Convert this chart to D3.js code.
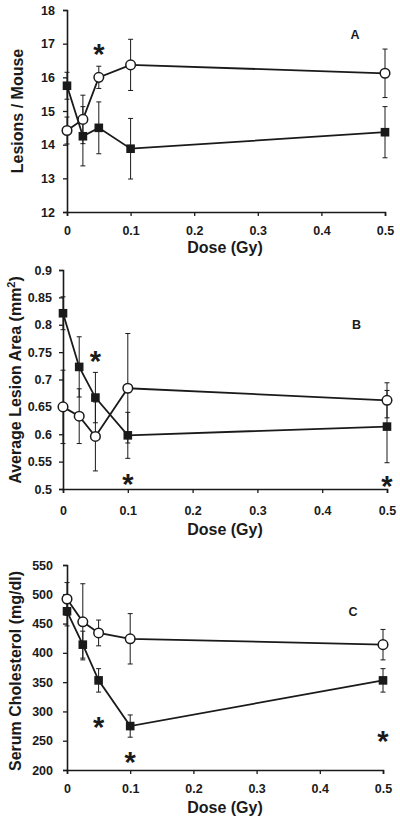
<!DOCTYPE html>
<html><head><meta charset="utf-8">
<script src="https://cdn.jsdelivr.net/npm/d3@7"></script>
<style>body{margin:0;background:#fff}svg{display:block}text{font-family:"Liberation Sans",Arial,sans-serif;font-weight:bold;fill:#1a1a1a}</style>
</head><body>
<script>
const doses = [0, 0.025, 0.05, 0.1, 0.5];
const xTicks = [0, 0.1, 0.2, 0.3, 0.4, 0.5];

// Panel A: Lesions / Mouse
const aOpen = [14.42, 14.75, 16.0, 16.37, 16.12];
const aOpenErr = [0.4, 0.72, 0.33, 0.76, 0.72];
const aFilled = [15.75, 14.25, 14.5, 13.88, 14.37];
const aFilledErr = [0.4, 0.88, 0.77, 0.9, 0.76];
const aTicks = [12, 13, 14, 15, 16, 17, 18];
const aStars = [[0.05, 16.87]];

// Panel B: Average Lesion Area (mm²)
const bOpen = [0.65, 0.633, 0.596, 0.684, 0.662];
const bOpenErr = [0.067, 0.05, 0.063, 0.1, 0.032];
const bFilled = [0.821, 0.723, 0.667, 0.598, 0.614];
const bFilledErr = [0.03, 0.055, 0.046, 0.042, 0.066];
const bTicks = [0.5, 0.55, 0.6, 0.65, 0.7, 0.75, 0.8, 0.85, 0.9];
const bStars = [[0.05, 0.745], [0.1, 0.52], [0.5, 0.516]];

// Panel C: Serum Cholesterol (mg/dl)
const cOpen = [492, 453, 434, 424, 414];
const cOpenErr = [28, 65, 22, 43, 26];
const cFilled = [471, 414, 353, 275, 353];
const cFilledErr = [25, 23, 20, 19, 20];
const cTicks = [200, 250, 300, 350, 400, 450, 500, 550];
const cStars = [[0.05, 284], [0.1, 224], [0.5, 261]];

const panels = [
  {open:aOpen, openErr:aOpenErr, filled:aFilled, filledErr:aFilledErr, ticks:aTicks, stars:aStars,
   ydom:[12,18], x0:67, x1:385, yTop:10, yBot:212, label:"A", labelPos:[355,34], pad:8,
   title:["Lesions / Mouse"], titleX:17, titleY:111, fmt:d3.format("d"), tickBase:235, doseY:253},
  {open:bOpen, openErr:bOpenErr, filled:bFilled, filledErr:bFilledErr, ticks:bTicks, stars:bStars,
   ydom:[0.5,0.9], x0:63, x1:387, yTop:270, yBot:489, label:"B", labelPos:[356.5,324], pad:7,
   title:["Average Lesion Area (mm", "2", ")"], titleX:15, titleY:380, fmt:d => String(+d.toFixed(2)), tickBase:515, doseY:534.5},
  {open:cOpen, openErr:cOpenErr, filled:cFilled, filledErr:cFilledErr, ticks:cTicks, stars:cStars,
   ydom:[200,550], x0:67, x1:383, yTop:565, yBot:770, label:"C", labelPos:[353,611], pad:10,
   title:["Serum Cholesterol (mg/dl)"], titleX:15, titleY:671, fmt:d3.format("d"), tickBase:793, doseY:813}
];

const svg = d3.select("body").append("svg").attr("width",400).attr("height",821);
const ink = "#1a1a1a";

panels.forEach(p => {
  const x = d3.scaleLinear().domain([0,0.5]).range([p.x0,p.x1]);
  const y = d3.scaleLinear().domain(p.ydom).range([p.yBot,p.yTop]);
  const g = svg.append("g");

  // y axis
  const ya = g.append("g").attr("transform",`translate(${p.x0},0)`)
    .call(d3.axisLeft(y).tickValues(p.ticks).tickSize(4).tickPadding(p.pad).tickFormat(p.fmt));
  ya.select(".domain").attr("stroke",ink).attr("stroke-width",1.6);
  ya.selectAll(".tick line").attr("stroke",ink).attr("stroke-width",1.3);
  ya.selectAll("text").attr("font-size",12.5).style("font-weight","bold");

  // x axis
  const xa = g.append("g").attr("transform",`translate(0,${p.yBot})`)
    .call(d3.axisBottom(x).tickValues(xTicks).tickSize(4).tickFormat(d => String(+d.toFixed(1))));
  xa.select(".domain").attr("stroke",ink).attr("stroke-width",1.6);
  xa.selectAll(".tick line").attr("stroke",ink).attr("stroke-width",1.3);
  xa.selectAll("text").attr("font-size",12.5).style("font-weight","bold")
    .attr("y", p.tickBase - p.yBot).attr("dy","0");

  // axis titles
  g.append("text").attr("x",225).attr("y",p.doseY).attr("text-anchor","middle")
    .attr("font-size",16).text("Dose (Gy)");
  const yt = g.append("text").attr("transform",`translate(${p.titleX},${p.titleY}) rotate(-90)`)
    .attr("text-anchor","middle").attr("dy","0.36em").attr("font-size",16);
  yt.append("tspan").text(p.title[0]);
  if (p.title.length > 1) {
    yt.append("tspan").attr("font-size",11).attr("dy","-0.55em").text(p.title[1]);
    yt.append("tspan").attr("dy","0.38em").text(p.title[2]);
  }

  // panel label
  g.append("text").attr("x",p.labelPos[0]).attr("y",p.labelPos[1]).attr("text-anchor","middle")
    .attr("dy","0.36em").attr("font-size",12.5).text(p.label);

  const line = d3.line().x((d,i)=>x(doses[i])).y(d=>y(d));

  function errorBars(vals, errs) {
    const eb = g.append("g").attr("stroke",ink).attr("stroke-width",1);
    doses.forEach((dd,i) => {
      const cx = x(dd), lo = y(vals[i]-errs[i]), hi = y(vals[i]+errs[i]);
      eb.append("line").attr("x1",cx).attr("x2",cx).attr("y1",lo).attr("y2",hi);
      eb.append("line").attr("x1",cx-2.5).attr("x2",cx+2.5).attr("y1",lo).attr("y2",lo);
      eb.append("line").attr("x1",cx-2.5).attr("x2",cx+2.5).attr("y1",hi).attr("y2",hi);
    });
  }
  errorBars(p.open, p.openErr);
  errorBars(p.filled, p.filledErr);

  g.append("path").datum(p.filled).attr("d",line).attr("fill","none").attr("stroke",ink).attr("stroke-width",1.8);
  g.append("path").datum(p.open).attr("d",line).attr("fill","none").attr("stroke",ink).attr("stroke-width",1.8);

  g.selectAll(".sq").data(p.filled).enter().append("rect")
    .attr("x",(d,i)=>x(doses[i])-4.3).attr("y",d=>y(d)-4.3).attr("width",8.6).attr("height",8.6)
    .attr("fill",ink);
  g.selectAll(".ci").data(p.open).enter().append("circle")
    .attr("cx",(d,i)=>x(doses[i])).attr("cy",d=>y(d)).attr("r",4.8)
    .attr("fill","#fff").attr("stroke",ink).attr("stroke-width",1.5);

  // significance asterisks
  g.selectAll(".star").data(p.stars).enter().append("text")
    .attr("x",d=>x(d[0])).attr("y",d=>y(d[1])).attr("dy","0.56em").attr("text-anchor","middle")
    .attr("font-size",29).text("*");
});
</script>
</body></html>
